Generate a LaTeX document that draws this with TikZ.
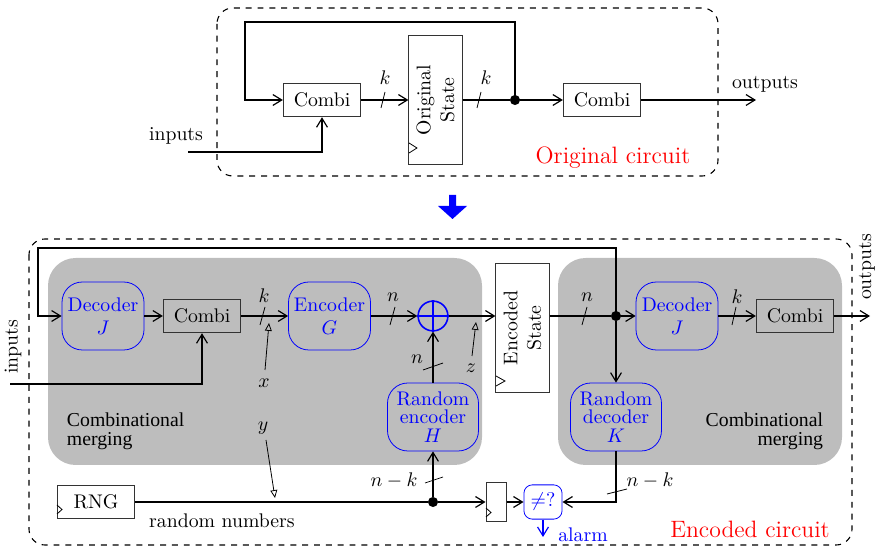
\documentclass[tikz,border=0pt]{standalone}
\usepackage{fontspec}
\usetikzlibrary{arrows.meta}
\newfontfamily\mergefont{Liberation Serif}

\begin{document}
\begin{tikzpicture}[x=0.0178cm, y=-0.0178cm,
  flow/.style={thick, -{Straight Barb[length=4.5pt,width=5.5pt,line width=0.6pt]}},
  note/.style={thin, -{Triangle[open,length=4pt,width=3.5pt]}},
  tick/.style={thin},
  frame/.style={dashed, line width=0.55pt, rounded corners=8},
  combi/.style={draw=black!80, thin, minimum width=1.38cm, minimum height=0.6cm, inner sep=0pt},
  coder/.style={draw=blue, text=blue, rounded corners=0.36cm, minimum width=1.46cm, minimum height=1.21cm, align=center, inner sep=1pt},
  rcoder/.style={coder, minimum width=1.62cm},
  statebox/.style={draw=black!80, thin, minimum width=0.95cm, minimum height=2.3cm},
  dot/.style={circle, fill, inner sep=0pt, minimum size=0.18cm},
  merge/.style={font=\mergefont\fontsize{10}{9.6}\selectfont}]
  \useasboundingbox (0,0) rectangle (876,547);

  % ---- original circuit ----
  \draw[frame] (217,8) rectangle (718,176);
  \node[combi] (combiA) at (322,100) {Combi};
  \node[statebox] (ostate) at (435.5,100) {};
  \node[rotate=90, align=center] (ostatelbl) at (ostate.center) {Original\\State};
  \draw[thin] (409,143) -- (417,148) -- (409,153);
  \node[dot] (dotA) at (515,100) {};
  \node[combi] (combiB) at (602,100) {Combi};
  \coordinate (inA) at (188,152);
  \coordinate (outA) at (756,100);
  \node (inAlbl) at (176,136) {inputs};
  \node (outAlbl) at (765,84) {outputs};
  \draw[flow] (inA) -| (combiA.south);
  \draw[flow] (combiA) -- (ostate);
  \draw[thick] (ostate) -- (dotA);
  \draw[flow] (dotA) -- (combiB);
  \draw[flow] (combiB) -- (outA);
  \draw[flow] (dotA.center) |- (245,22) |- (combiA.west);
  % bus widths
  \draw[tick] (381,108) -- (385,92);
  \node (kA) at (385,78) {$k$};
  \draw[tick] (477,108) -- (481,92);
  \node (kB) at (486,78) {$k$};
  \node[red, font=\large] (origlbl) at (613,158) {Original circuit};

  % transformation arrow
  \fill[blue] (449,195) -- (456,195) -- (456,206) -- (467,206) -- (452.5,219) -- (438,206) -- (449,206) -- cycle;

  % ---- encoded circuit ----
  \draw[frame] (29,239) rectangle (852,545);
  \fill[gray!52, rounded corners=14] (48,258) rectangle (482,465);
  \fill[gray!52, rounded corners=14] (558,258) rectangle (842,465);
  \node[merge, anchor=west, align=left] (mergeL) at (60,431) {Combinational\\merging};
  \node[merge, anchor=east, align=right] (mergeR) at (830,431) {Combinational\\merging};

  \node[coder] (decL) at (103,316) {Decoder\\$J$};
  \node[combi] (combiL) at (202,316) {Combi};
  \node[coder] (encG) at (329.5,316) {Encoder\\$G$};
  \node[circle, draw=blue, thick, minimum size=0.53cm, inner sep=0pt] (xorz) at (433,316) {};
  \draw[blue, thick] (xorz.north) -- (xorz.south) (xorz.west) -- (xorz.east);
  \node[statebox] (estate) at (522.5,328) {};
  \node[rotate=90, align=center] (estatelbl) at (estate.center) {Encoded\\State};
  \draw[thin] (496,376) -- (505,381) -- (496,386);
  \node[rcoder] (rencH) at (433,417) {Random\\[-2.6pt]encoder\\[-2.6pt]$H$};
  \node[dot] (dotB) at (616,316) {};
  \node[coder] (decR) at (677,316) {Decoder\\$J$};
  \node[combi] (combiR) at (795,316) {Combi};
  \node[rcoder] (rdecK) at (616,417) {Random\\[-2.6pt]decoder\\[-2.6pt]$K$};

  \node[combi] (rng) at (96,502) {RNG};
  \draw[thin] (57,505) -- (62,509.5) -- (57,514);
  \node[dot] (dotC) at (433,502) {};
  \node[draw=black!80, thin, minimum width=0.36cm, minimum height=0.69cm] (reg) at (496,502) {};
  \draw[thin] (486,508) -- (491,512.5) -- (486,517);
  \node[draw=blue, text=blue, rounded corners=0.15cm, minimum width=0.68cm, minimum height=0.61cm, inner sep=1pt] (cmp) at (543,502) {$\neq?$};

  \coordinate (inB) at (10,384);
  \coordinate (outB) at (870,316);
  \coordinate (alarmB) at (543,537);
  \node[rotate=90] (inBlbl) at (13,347) {inputs};
  \node[rotate=90] (outBlbl) at (867,267) {outputs};

  % data path
  \draw[flow] (decL) -- (combiL);
  \draw[flow] (inB) -| (combiL.south);
  \draw[flow] (combiL) -- (encG);
  \draw[flow] (encG) -- (xorz);
  \draw[flow] (rencH) -- (xorz);
  \draw[flow] (xorz) -- (xorz -| estate.west);
  \draw[thick] (estate.east |- dotB) -- (dotB);
  \draw[flow] (dotB) -- (decR);
  \draw[flow] (decR) -- (combiR);
  \draw[flow] (combiR) -- (outB);
  \draw[flow] (dotB) -- (rdecK);
  \draw[flow] (dotB.center) |- (38,248) |- (decL.west);
  % random numbers and check
  \draw[thick] (rng) -- (dotC);
  \draw[flow] (dotC) -- (rencH);
  \draw[flow] (dotC) -- (reg);
  \draw[flow] (reg) -- (cmp);
  \draw[flow] (rdecK) |- (cmp);
  \draw[flow, blue] (cmp) -- (alarmB);
  \node[blue] (alarmlbl) at (583,535) {alarm};
  \node (rnglbl) at (222,521) {random numbers};

  % bus widths
  \draw[tick] (260,325) -- (265,307);
  \node (kC) at (264,296) {$k$};
  \draw[tick] (390,325) -- (395,307);
  \node (nA) at (393,297) {$n$};
  \draw[tick] (423,370) -- (443,363);
  \node (nB) at (417,359) {$n$};
  \draw[tick] (582,325) -- (587,307);
  \node (nC) at (587,297) {$n$};
  \draw[tick] (732,325) -- (736,307);
  \node (kD) at (737,297) {$k$};
  \draw[tick] (425,483) -- (443,477);
  \node (nkA) at (394,480) {$n-k$};
  \draw[tick] (607,494) -- (627,489);
  \node (nkB) at (650,480) {$n-k$};

  % signal names
  \node (xlbl) at (264,383) {$x$};
  \draw[note] (265,370) -- (269,323);
  \node (ylbl) at (263,428) {$y$};
  \draw[note] (266,440) -- (275,498);
  \node (zlbl) at (471,368) {$z$};
  \draw[note] (472,356) -- (476,322);

  \node[red, font=\large] (enclbl) at (750,529) {Encoded circuit};
\end{tikzpicture}
\end{document}
